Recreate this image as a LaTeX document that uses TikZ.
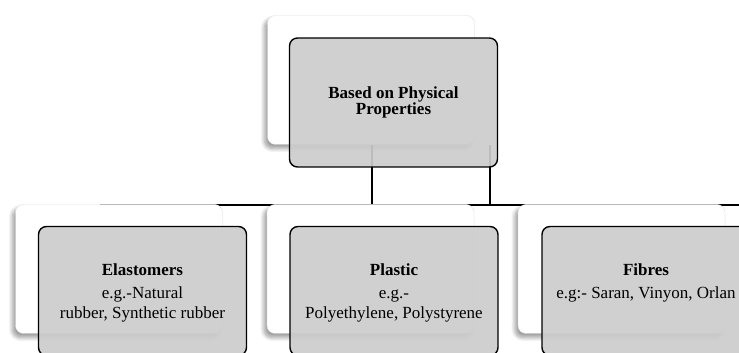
\documentclass[tikz,border=0pt]{standalone}
\usepackage{fontspec}
\setmainfont{Liberation Serif}
\usetikzlibrary{positioning,shadows.blur}

\begin{document}
\begin{tikzpicture}[x=1pt, y=1pt,
  backbox/.style={draw=gray!25, fill=white, rounded corners=8pt, minimum width=207pt, minimum height=129pt,
    blur shadow={shadow xshift=-3pt, shadow yshift=-4pt, shadow blur radius=4pt, shadow blur steps=8, shadow opacity=40}},
  frontbox/.style={draw=black, line width=1.4pt, fill=gray!40, fill opacity=0.92, text opacity=1,
    rounded corners=8pt, minimum width=208pt, minimum height=129pt, align=center},
  boxtext/.style={inner sep=0pt, align=center, font=\fontsize{17}{19.5}\selectfont},
  conn/.style={black, line width=1.8pt}]

\useasboundingbox (0,0) rectangle (739,353);

% connectors (behind the boxes)
\coordinate  (hubl)  at  (100,148);
\coordinate  (hubr)  at  (745,148);
\coordinate  (hubx)  at  (490,147);

% Top box
\node[backbox]  (topback)  at  (371,273) {};
\draw[conn]  ([xshift=1pt]topback.south) -- ([xshift=1pt]topback.south |- hubl);
\draw[conn]  (hubx |- topback.south) -- (hubx);
\draw[conn]  (hubl) -- (hubr);

% Bottom row, back
\node[backbox]  (elastback)  at  (119,84) {};
\node[backbox]  (plastback)  at  (370.5,84) {};
\node[backbox]  (fibback)    at  (621.5,84) {};

% Top box, front
\node[frontbox, font=\fontsize{17}{16.5}\selectfont\bfseries]  (topfront)  at  (393.5,250.5)
  {Based on Physical\\Properties};

% Bottom row, front
\node[frontbox]  (elast)  at  (142.5,62) {};
\node[frontbox]  (plast)  at  (394,62) {};
\node[frontbox]  (fib)    at  (646,62) {};

\node[boxtext, below=38pt of elast.north]  (elasttxt)
  {\textbf{Elastomers}\\[3.5pt]e.g.-Natural\\rubber, Synthetic rubber};
\node[boxtext, below=38pt of plast.north]  (plasttxt)
  {\textbf{Plastic}\\[3.5pt]e.g.-\\Polyethylene, Polystyrene};
\node[boxtext, below=38pt of fib.north]  (fibtxt)
  {\textbf{Fibres}\\[3.5pt]e.g:- Saran, Vinyon, Orlan};

\end{tikzpicture}
\end{document}
